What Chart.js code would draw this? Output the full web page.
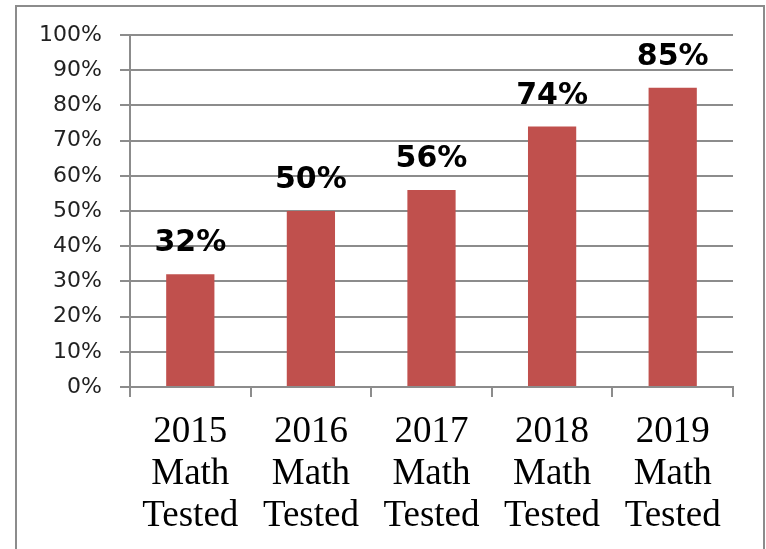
<!DOCTYPE html>
<html>
<head>
<meta charset="utf-8">
<script src="https://cdn.jsdelivr.net/npm/chart.js@4"></script>
<style>
  html, body { margin: 0; padding: 0; background: #fff; }
  #wrap { position: relative; width: 766px; height: 549px; overflow: hidden; }
  #frame { position: absolute; left: 15px; top: 5px; width: 746px; height: 600px; border: 2px solid #8c8c8c; }
  #chart { position: absolute; left: 0; top: 0; }
</style>
</head>
<body>
<div id="wrap">
  <div id="frame"></div>
  <canvas id="chart" width="766" height="549"></canvas>
</div>
<script>
const categories = [
  ['2015', 'Math', 'Tested'],
  ['2016', 'Math', 'Tested'],
  ['2017', 'Math', 'Tested'],
  ['2018', 'Math', 'Tested'],
  ['2019', 'Math', 'Tested']
];
const percentTested = [32, 50, 56, 74, 85];
const yTicks = [0, 10, 20, 30, 40, 50, 60, 70, 80, 90, 100];

// draw the value above each bar
const barLabels = {
  id: 'barLabels',
  afterDatasetsDraw(chart) {
    const ctx = chart.ctx;
    const meta = chart.getDatasetMeta(0);
    ctx.save();
    ctx.font = 'bold 30px "DejaVu Sans", sans-serif';
    ctx.fillStyle = '#000';
    ctx.textAlign = 'center';
    ctx.textBaseline = 'alphabetic';
    meta.data.forEach((bar, i) => {
      ctx.fillText(percentTested[i] + '%', bar.x, bar.y - 23);
    });
    ctx.restore();
  }
};

new Chart(document.getElementById('chart').getContext('2d'), {
  type: 'bar',
  data: {
    labels: categories,
    datasets: [{
      data: percentTested,
      backgroundColor: '#c0504d',
      barPercentage: 0.4,
      categoryPercentage: 1
    }]
  },
  plugins: [barLabels],
  options: {
    responsive: false,
    animation: false,
    layout: { padding: { top: 35, right: 33, bottom: 0, left: 0 } },
    plugins: { legend: { display: false }, tooltip: { enabled: false } },
    scales: {
      x: {
        offset: true,
        grid: { display: true, drawOnChartArea: false, offset: true, color: '#8c8c8c', lineWidth: 2, tickLength: 10 },
        border: { color: '#8c8c8c', width: 2 },
        ticks: {
          color: '#000',
          padding: 14,
          font: { family: '"Liberation Serif", "Times New Roman", serif', size: 37, lineHeight: 42 / 37 },
          maxRotation: 0
        },
        afterFit: (scale) => { scale.height = 162; }
      },
      y: {
        min: 0,
        max: 100,
        afterBuildTicks: (scale) => { scale.ticks = yTicks.map(v => ({ value: v })); },
        grid: { color: '#8c8c8c', lineWidth: 2, tickLength: 10 },
        border: { color: '#8c8c8c', width: 2 },
        ticks: {
          color: '#222',
          padding: 18,
          font: { family: '"DejaVu Sans", sans-serif', size: 22 },
          callback: (v) => v + '%'
        },
        afterFit: (scale) => { scale.width = 130; }
      }
    }
  }
});
</script>
</body>
</html>
